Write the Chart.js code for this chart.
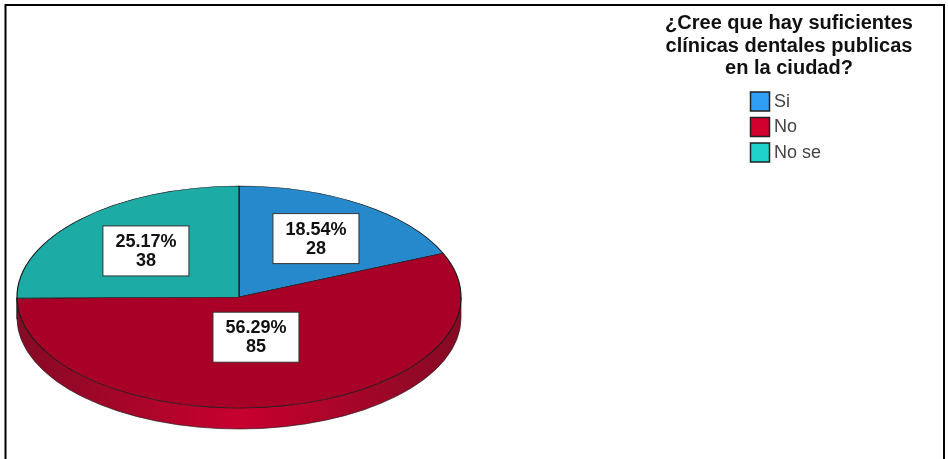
<!DOCTYPE html>
<html>
<head>
<meta charset="utf-8">
<style>
  html, body { margin: 0; padding: 0; background: #fff; }
  #wrap { width: 948px; height: 459px; }
</style>
<script src="https://cdn.jsdelivr.net/npm/chart.js@4"></script>
</head>
<body>
<div id="wrap"><canvas id="pieChart" width="948" height="459"></canvas></div>
<script>
const categories = ['Si', 'No', 'No se'];
const counts = [28, 85, 38];
const percents = ['18.54%', '56.29%', '25.17%'];
const titleLines = ['¿Cree que hay suficientes', 'clínicas dentales publicas', 'en la ciudad?'];

const sliceColors = ['#2589cc', '#a80026', '#1dabA6'];
const keyColors = ['#2e9ff5', '#d2002f', '#1fd2cc'];
const labelReach = [0.63, 0.37, 0.59]; // how far out the white boxes sit

const centerX = 239, centerY = 297, radiusX = 222, squash = 0.5, rimDepth = 21;

const squashed = {
    id: 'squashed',
    beforeDatasetDraw(chart) {
        const ctx = chart.ctx;
        const arcs = chart.getDatasetMeta(0).data;

        // side of the disc, only the front half shows
        const rim = ctx.createLinearGradient(centerX - radiusX, 0, centerX + radiusX, 0);
        rim.addColorStop(0, '#860a24');
        rim.addColorStop(0.5, '#c8002f');
        rim.addColorStop(1, '#860a24');
        arcs.forEach(arc => {
            const from = Math.max(arc.startAngle, 0);
            const to = Math.min(arc.endAngle, Math.PI);
            if (to <= from) return;
            ctx.beginPath();
            ctx.ellipse(centerX, centerY, radiusX, radiusX * squash, 0, from, to);
            ctx.ellipse(centerX, centerY + rimDepth, radiusX, radiusX * squash, 0, to, from, true);
            ctx.closePath();
            ctx.fillStyle = rim;
            ctx.fill();
            ctx.strokeStyle = '#222';
            ctx.lineWidth = 0.7;
            ctx.stroke();
        });

        ctx.save();
        ctx.translate(0, centerY);
        ctx.scale(1, squash);
        ctx.translate(0, -centerY);
    },
    afterDatasetDraw(chart) {
        chart.ctx.restore();
    },
    afterDraw(chart) {
        const ctx = chart.ctx;
        ctx.save();

        // frame, the bottom edge is cut off in the original
        ctx.strokeStyle = '#000';
        ctx.lineWidth = 2;
        ctx.beginPath();
        ctx.moveTo(5.5, 459);
        ctx.lineTo(5.5, 5);
        ctx.lineTo(944, 5);
        ctx.lineTo(944, 459);
        ctx.stroke();

        // value boxes
        chart.getDatasetMeta(0).data.forEach((arc, i) => {
            const mid = (arc.startAngle + arc.endAngle) / 2;
            const x = centerX + Math.cos(mid) * radiusX * labelReach[i];
            const y = centerY + Math.sin(mid) * radiusX * squash * labelReach[i];
            ctx.fillStyle = '#fff';
            ctx.fillRect(x - 43, y - 25, 86, 50);
            ctx.strokeStyle = '#333';
            ctx.lineWidth = 1;
            ctx.strokeRect(x - 43, y - 25, 86, 50);
            ctx.fillStyle = '#111';
            ctx.font = 'bold 18px "Liberation Sans"';
            ctx.textAlign = 'center';
            ctx.textBaseline = 'middle';
            ctx.fillText(percents[i], x, y - 9);
            ctx.fillText(String(counts[i]), x, y + 10);
        });

        // title
        ctx.fillStyle = '#111';
        ctx.font = 'bold 20px "Liberation Sans"';
        ctx.textAlign = 'center';
        ctx.textBaseline = 'alphabetic';
        titleLines.forEach((line, i) => ctx.fillText(line, 789, 29 + i * 22.5));

        // legend
        ctx.font = '18px "Liberation Sans"';
        ctx.textAlign = 'left';
        ctx.textBaseline = 'middle';
        categories.forEach((name, i) => {
            const top = 92 + i * 25.5;
            ctx.fillStyle = keyColors[i];
            ctx.fillRect(750.5, top, 19, 19);
            ctx.strokeStyle = '#222';
            ctx.lineWidth = 1.5;
            ctx.strokeRect(750.5, top, 19, 19);
            ctx.fillStyle = '#444';
            ctx.fillText(name, 774, top + 10);
        });
        ctx.restore();
    }
};

new Chart(document.getElementById('pieChart'), {
    type: 'pie',
    data: {
        labels: categories,
        datasets: [{
            data: counts,
            backgroundColor: sliceColors,
            borderColor: '#1a1a1a',
            borderWidth: 1.2,
            radius: radiusX,
            clip: false
        }]
    },
    options: {
        responsive: false,
        animation: false,
        // the pie centre follows the padding: (5+473)/2, (135+459)/2
        layout: { padding: { left: 5, right: 475, top: 135, bottom: 0 } },
        plugins: {
            legend: { display: false },
            title: { display: false },
            tooltip: { enabled: false }
        }
    },
    plugins: [squashed]
});
</script>
</body>
</html>
